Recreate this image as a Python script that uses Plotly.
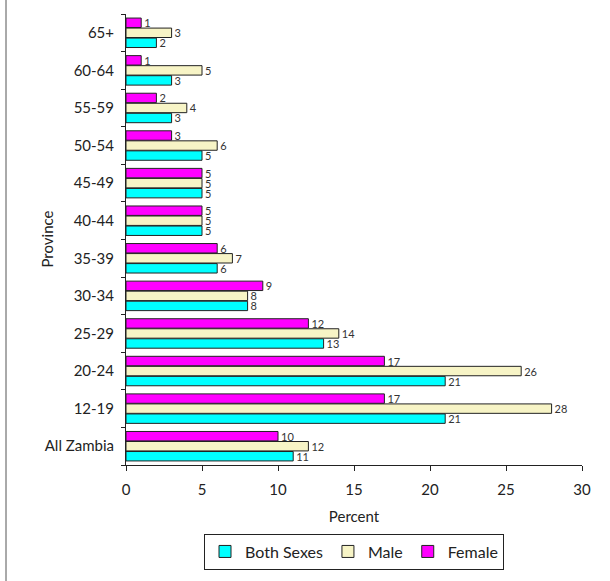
import plotly.graph_objects as go

categories = ["All Zambia", "12-19", "20-24", "25-29", "30-34", "35-39",
              "40-44", "45-49", "50-54", "55-59", "60-64", "65+"]
both_sexes = [11, 21, 21, 13, 8, 6, 5, 5, 5, 3, 3, 2]
male = [12, 28, 26, 14, 8, 7, 5, 5, 6, 4, 5, 3]
female = [10, 17, 17, 12, 9, 6, 5, 5, 3, 2, 1, 1]
x_ticks = [0, 5, 10, 15, 20, 25, 30]

FONT = "Lato, 'Open Sans', sans-serif"
series = [("Both Sexes", both_sexes, "#00FFFF"),
          ("Male", male, "#F7F4C6"),
          ("Female", female, "#FF00FF")]

fig = go.Figure()
for name, vals, col in series:
    fig.add_trace(go.Bar(
        y=categories, x=vals, name=name, orientation="h",
        marker=dict(color=col, line=dict(color="#222222", width=1)),
        text=[str(v) for v in vals], textposition="outside",
        textfont=dict(size=11, color="#333333", family=FONT),
        constraintext="none", cliponaxis=False,
    ))

fig.update_layout(
    width=610, height=581,
    margin=dict(l=126, r=28, t=14, b=116),
    paper_bgcolor="white", plot_bgcolor="white",
    barmode="group", bargap=0.2, bargroupgap=0.06,
    font=dict(family=FONT, size=15, color="#222222"),
    showlegend=True,
    legend=dict(orientation="h", x=0.5, xanchor="center", y=-0.152, yanchor="top",
                bordercolor="#222222", borderwidth=1, font=dict(size=16),
                traceorder="normal", itemwidth=30, tracegroupgap=0),
    xaxis=dict(range=[0, 30], tickvals=x_ticks, showgrid=False, zeroline=False,
               showline=True, linecolor="#222222", linewidth=1,
               ticks="outside", ticklen=5, tickcolor="#222222", ticklabelstandoff=6,
               title=dict(text="Percent", font=dict(size=15), standoff=14),
               tickfont=dict(size=15)),
    yaxis=dict(type="category", categoryorder="array", categoryarray=categories,
               showgrid=False, zeroline=False, showline=True, linecolor="#222222",
               linewidth=1, ticks="outside", ticklen=4, tickcolor="#222222",
               tickson="boundaries", ticklabelstandoff=8,
               tickfont=dict(size=15)),
    annotations=[dict(text="Province", xref="paper", yref="paper",
                      x=(46 - 126) / 456, y=0.5, textangle=-90, showarrow=False,
                      xanchor="center", yanchor="middle", font=dict(size=15))],
)
fig.add_shape(type="line", xref="paper", yref="paper",
              x0=(6 - 126) / 456, x1=(6 - 126) / 456, y0=-116 / 451, y1=1 + 14 / 451,
              line=dict(color="#555555", width=1))

fig.write_html("out.html")
